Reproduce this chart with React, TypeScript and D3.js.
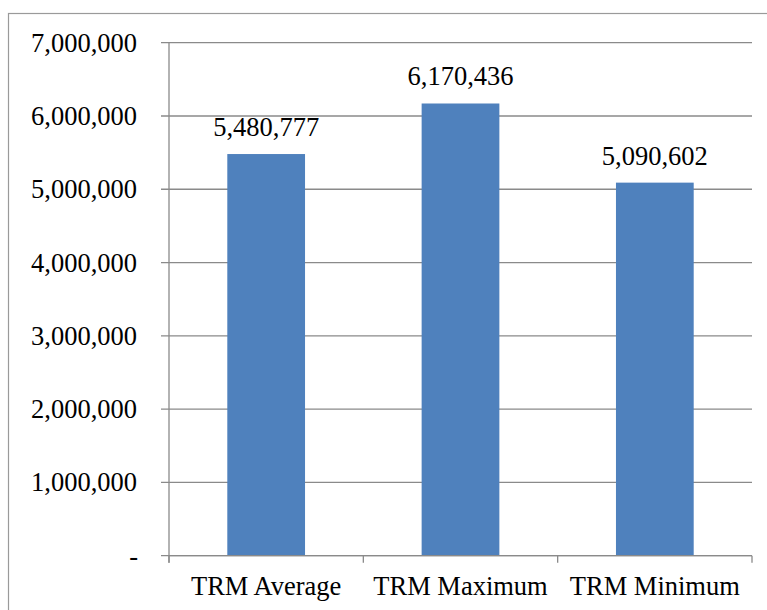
import React from "react";
import * as d3 from "d3";

const categories = ["TRM Average", "TRM Maximum", "TRM Minimum"];
const values = [5480777, 6170436, 5090602];
const yTicks = [0, 1000000, 2000000, 3000000, 4000000, 5000000, 6000000, 7000000];

const W = 767;
const H = 610;
const plot = { left: 169, right: 752, top: 42.7, bottom: 555.7 };
const FONT = '"Liberation Serif", "Times New Roman", Times, serif';
const FS = 26.5;
const GRID = "#8a8a8a";
const BAR = "#4F81BD";

const fmt = d3.format(",");
const textStyle: React.CSSProperties = { fontFamily: FONT, fontSize: FS };

export default function App() {
  const x = d3
    .scaleBand<string>()
    .domain(categories)
    .range([plot.left, plot.right])
    .paddingInner(0.6)
    .paddingOuter(0.3);
  const band = d3.scaleBand<string>().domain(categories).range([plot.left, plot.right]);
  const y = d3.scaleLinear().domain([0, 7000000]).range([plot.bottom, plot.top]);

  const catEdges = [plot.left, ...categories.map((c) => (band(c) as number) + band.bandwidth())];

  return (
    <svg
      width={W}
      height={H}
      style={{ position: "absolute", left: 0, top: 0, background: "#fff" }}
    >
      <rect x={0} y={0} width={W} height={H} fill="#fff" />
      {/* chart frame */}
      <rect x={8.5} y={13.5} width={W + 20} height={H + 20} fill="none" stroke="#9a9a9a" strokeWidth={1.2} />

      {/* horizontal gridlines with left tick marks */}
      {yTicks.map((t) => (
        <line
          key={"g" + t}
          x1={plot.left - 8}
          x2={plot.right}
          y1={y(t)}
          y2={y(t)}
          stroke={GRID}
          strokeWidth={1.3}
        />
      ))}

      {/* y-axis labels */}
      {yTicks.map((t) => (
        <text
          key={"l" + t}
          x={t === 0 ? 138 : 137}
          y={y(t) + 9}
          textAnchor="end"
          style={textStyle}
          fill="#000"
        >
          {t === 0 ? "-" : fmt(t)}
        </text>
      ))}

      {/* bars */}
      {categories.map((c, i) => (
        <rect
          key={"b" + c}
          x={x(c)}
          y={y(values[i])}
          width={x.bandwidth()}
          height={y(0) - y(values[i])}
          fill={BAR}
        />
      ))}

      {/* value labels */}
      {categories.map((c, i) => (
        <text
          key={"v" + c}
          x={(x(c) as number) + x.bandwidth() / 2}
          y={y(values[i]) - 18}
          textAnchor="middle"
          style={textStyle}
          fill="#000"
        >
          {fmt(values[i])}
        </text>
      ))}

      {/* axes */}
      <line x1={plot.left} x2={plot.left} y1={plot.top} y2={plot.bottom + 7} stroke={GRID} strokeWidth={1.3} />
      <line x1={plot.left} x2={plot.right} y1={plot.bottom} y2={plot.bottom} stroke={GRID} strokeWidth={1.3} />
      {catEdges.map((e, i) => (
        <line key={"t" + i} x1={e} x2={e} y1={plot.bottom} y2={plot.bottom + 7} stroke={GRID} strokeWidth={1.3} />
      ))}

      {/* category labels */}
      {categories.map((c) => (
        <text
          key={"c" + c}
          x={(band(c) as number) + band.bandwidth() / 2}
          y={595}
          textAnchor="middle"
          style={textStyle}
          fill="#000"
        >
          {c}
        </text>
      ))}
    </svg>
  );
}
